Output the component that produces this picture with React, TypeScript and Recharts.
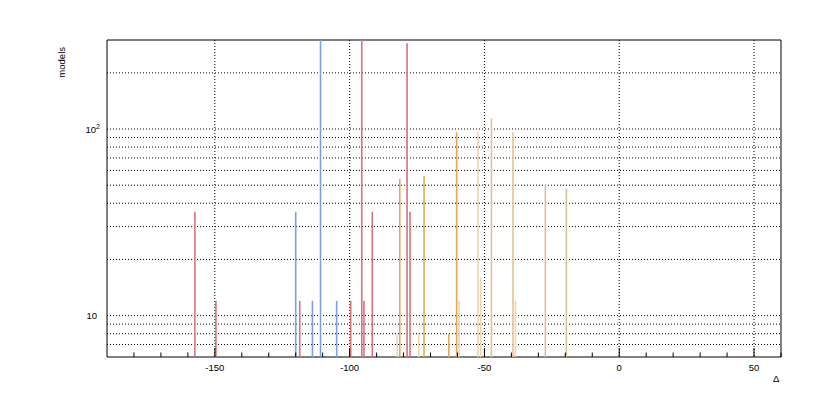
import React from 'react';
import { BarChart, Bar, XAxis, YAxis, CartesianGrid, Cell, ReferenceArea } from 'recharts';

// Δ positions and model counts per series
const redDelta = [-157.3, -149.5, -118.4, -99.5, -95.4, -94.6, -91.5, -78.6, -77.5];
const redModels = [36, 12, 12, 12, 400, 12, 36, 288, 36];

const blueDelta = [-119.9, -113.7, -110.7, -104.7];
const blueModels = [36, 12, 400, 12];

const orangeDelta = [-81.3, -72.3, -63.1, -60.2];
const orangeModels = [54, 56, 8, 96];

const sandDelta = [-47.3, -39.3];
const sandModels = [114, 96];

const peachDelta = [-82.3, -74.3, -59.3, -52.3, -51.3, -38.4];
const peachModels = [8, 8, 12, 96, 16, 12];

const tanDelta = [-27.3, -19.5];
const tanModels = [50, 48];

const xMajorTicks = [-150, -100, -50, 0, 50];
const xMinorTicks = [-180, -170, -160, -150, -140, -130, -120, -110, -100, -90, -80, -70, -60, -50, -40, -30, -20, -10, 0, 10, 20, 30, 40, 50, 60];
const yTicks = [7, 8, 9, 10, 20, 30, 40, 50, 60, 70, 80, 90, 100, 200];

const seriesColors: Record<string, string> = {
  red: '#d9727a',
  blue: '#7f9ee6',
  orange: '#e2a95a',
  sand: '#e8c293',
  peach: '#f1d3ae',
  tan: '#dcbc97',
};

const series: [string, number[], number[]][] = [
  ['tan', tanDelta, tanModels],
  ['peach', peachDelta, peachModels],
  ['sand', sandDelta, sandModels],
  ['orange', orangeDelta, orangeModels],
  ['blue', blueDelta, blueModels],
  ['red', redDelta, redModels],
];

const data = series.flatMap(([name, ds, ms]) =>
  ds.map((d, i) => ({ delta: d, models: ms[i], series: name }))
);

const FONT = 'Liberation Sans, Arial, Helvetica, sans-serif';

const XTick = (props: any) => {
  const { x, y, payload } = props;
  const v = payload.value;
  const major = xMajorTicks.includes(v);
  return (
    <g>
      <line x1={x} x2={x} y1={y} y2={y - (major ? 9 : 4.5)} stroke="#000" strokeWidth={1} />
      {major && (
        <text x={x} y={y + 14} textAnchor="middle" fontSize={9.5} fontFamily={FONT} fill="#000">
          {v}
        </text>
      )}
    </g>
  );
};

const YTick = (props: any) => {
  const { x, y, payload } = props;
  const v = payload.value;
  if (v === 10) {
    return (
      <text x={x - 10} y={y + 3.5} textAnchor="end" fontSize={9.5} fontFamily={FONT} fill="#000">
        10
      </text>
    );
  }
  if (v === 100) {
    return (
      <text x={x - 7} y={y + 3.5} textAnchor="end" fontSize={9.5} fontFamily={FONT} fill="#000">
        10
        <tspan fontSize={7} dy={-4}>2</tspan>
      </text>
    );
  }
  return <g />;
};

export default function App() {
  return (
    <div style={{ position: 'absolute', left: 0, top: 0, width: 822, height: 397, background: '#fff' }}>
      <BarChart
        width={822}
        height={397}
        data={data}
        margin={{ top: 40, right: 41, bottom: 10, left: 57 }}
      >
        <CartesianGrid
          stroke="#000"
          strokeDasharray="1 2"
          verticalValues={xMajorTicks}
          horizontalValues={yTicks}
        />
        <XAxis
          dataKey="delta"
          type="number"
          domain={[-190, 60]}
          allowDataOverflow
          ticks={xMinorTicks}
          interval={0}
          tickSize={0}
          tickMargin={0}
          tickLine={false}
          axisLine={false}
          tick={<XTick />}
          height={30}
        />
        <YAxis
          type="number"
          scale="log"
          domain={[6, 300]}
          allowDataOverflow
          ticks={yTicks}
          interval={0}
          tickSize={0}
          tickMargin={0}
          tickLine={false}
          axisLine={false}
          tick={<YTick />}
          width={50}
        />
        <Bar dataKey="models" barSize={1.6} isAnimationActive={false}>
          {data.map((d, i) => (
            <Cell key={i} fill={seriesColors[d.series]} />
          ))}
        </Bar>
        <ReferenceArea x1={-190} x2={60} y1={6} y2={300} fill="none" stroke="#000" strokeWidth={1} ifOverflow="visible" />
      </BarChart>
      <div
        style={{
          position: 'absolute',
          left: 62,
          top: 47,
          transform: 'rotate(-90deg)',
          transformOrigin: '0 0',
          fontFamily: FONT,
          fontSize: 9.5,
          whiteSpace: 'nowrap',
          lineHeight: '1',
        }}
      >
        <span style={{ position: 'absolute', right: 0, top: -5 }}>models</span>
      </div>
      <div style={{ position: 'absolute', left: 773, top: 374, fontFamily: FONT, fontSize: 9.5, lineHeight: '1' }}>Δ</div>
    </div>
  );
}
